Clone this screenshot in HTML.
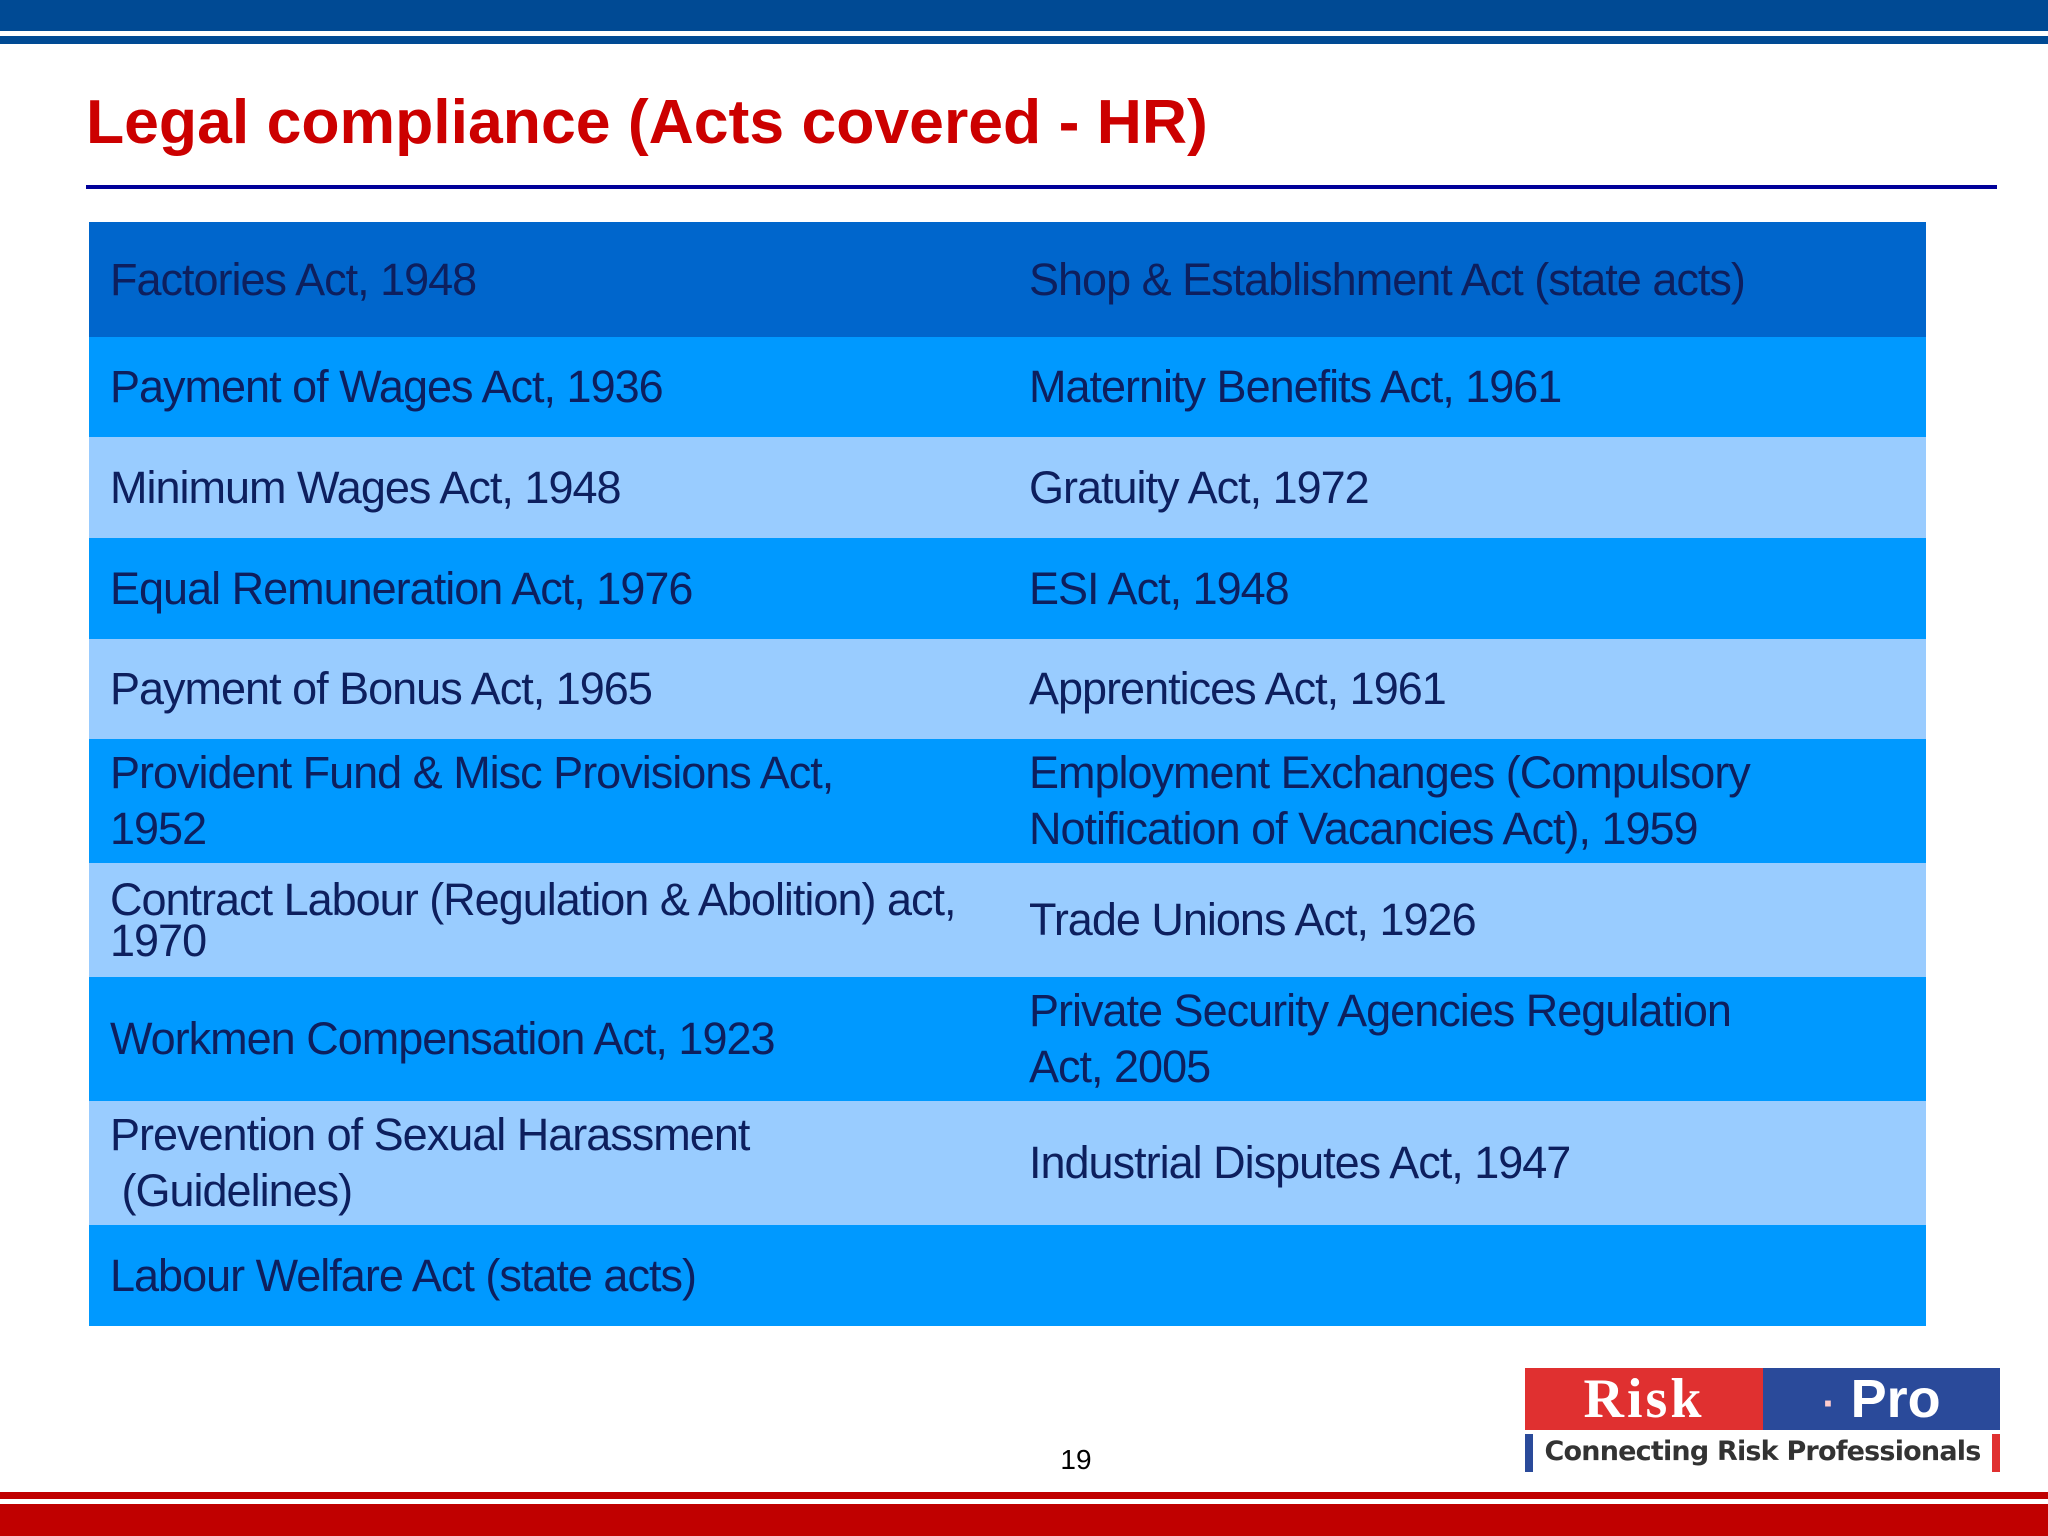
<!DOCTYPE html>
<html><head><meta charset="utf-8">
<style>
body{margin:0;width:2048px;height:1536px;position:relative;background:#fff;overflow:hidden;font-family:"Liberation Sans",sans-serif}
.abs{position:absolute}
.row{position:absolute;left:89px;width:1837px}
.cell{position:absolute;top:0;height:100%;display:flex;align-items:center;color:#0d1f5e;font-size:45px;letter-spacing:-1.0px;line-height:56px}
.c1{left:21px;width:900px}.c2{left:940px;width:880px}
.tight{display:block;line-height:41px}
</style></head><body>
<div class="abs" style="left:0;top:0;width:2048px;height:31px;background:#004a94"></div>
<div class="abs" style="left:0;top:36px;width:2048px;height:8px;background:#004a94"></div>
<div class="abs" style="left:86px;top:86px;font-size:62.5px;font-weight:bold;color:#cc0000;white-space:nowrap">Legal compliance (Acts covered - HR)</div>
<div class="abs" style="left:86px;top:185px;width:1911px;height:4px;background:#000099"></div>

<div id="tbl"></div>

<div class="abs" style="left:1046px;top:1444px;width:60px;text-align:center;font-size:28px;color:#000">19</div>

<div class="abs" style="left:1525px;top:1368px;width:475px;height:104px">
  <div class="abs" style="left:0;top:0;width:238px;height:62px;background:#e03030;color:#fff;font-family:'Liberation Serif',serif;font-weight:bold;font-size:56px;line-height:62px;text-align:center;letter-spacing:3px">Risk</div>
  <div class="abs" style="left:238px;top:0;width:237px;height:62px;background:#2a4a9a;color:#fff;font-weight:bold;font-size:54px;line-height:62px;text-align:center;white-space:nowrap"><span style="color:#ffcccc;font-size:40px">·</span> Pro</div>
  <div class="abs" style="left:0;top:66px;width:8px;height:38px;background:#2a4a9a"></div>
  <div class="abs" style="left:467px;top:66px;width:8px;height:38px;background:#e03030"></div>
  <div class="abs" style="left:8px;top:64px;width:459px;height:40px;text-align:center;font-size:27px;line-height:40px;color:#333;font-weight:bold;font-family:'DejaVu Sans',sans-serif;letter-spacing:-0.8px;white-space:nowrap">Connecting Risk Professionals</div>
</div>

<div class="abs" style="left:0;top:1492px;width:2048px;height:7px;background:#c00000"></div>
<div class="abs" style="left:0;top:1504px;width:2048px;height:32px;background:#c00000"></div>

<script>
const col1 = ["Factories Act, 1948","Payment of Wages Act, 1936","Minimum Wages Act, 1948","Equal Remuneration Act, 1976","Payment of Bonus Act, 1965","Provident Fund &amp; Misc Provisions Act,<br>1952","<span class='tight'>Contract Labour (Regulation &amp; Abolition) act,<br>1970</span>","Workmen Compensation Act, 1923","Prevention of Sexual Harassment<br>&nbsp;(Guidelines)","Labour Welfare Act (state acts)"];
const col2 = ["Shop &amp; Establishment Act (state acts)","Maternity Benefits Act, 1961","Gratuity Act, 1972","ESI Act, 1948","Apprentices Act, 1961","Employment Exchanges (Compulsory<br>Notification of Vacancies Act), 1959","Trade Unions Act, 1926","Private Security Agencies Regulation<br>Act, 2005","Industrial Disputes Act, 1947",""];
const rowEdges = [222,337,437,538,639,739,863,977,1101,1225,1326];
const tbl = document.getElementById('tbl');
for (let i=0;i<col1.length;i++){
  const r=document.createElement('div');
  r.className='row';
  
  
  r.style.top=rowEdges[i]+'px';
  r.style.height=(rowEdges[i+1]-rowEdges[i])+'px';
  r.style.background = i===0 ? '#0066cc' : (i%2===1 ? '#0099ff' : '#99ccff');
  const a=document.createElement('div');a.className='cell c1';a.innerHTML='<div>'+col1[i]+'</div>';
  
  
  const b=document.createElement('div');b.className='cell c2';b.innerHTML='<div>'+col2[i]+'</div>';
  
  
  r.appendChild(a);r.appendChild(b);tbl.appendChild(r);
}
</script>
</body></html>
